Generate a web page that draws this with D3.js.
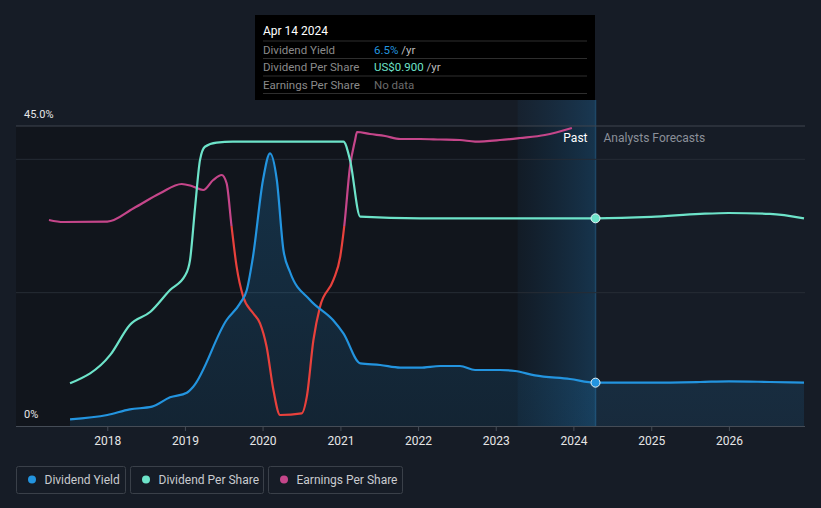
<!DOCTYPE html>
<html>
<head>
<meta charset="utf-8">
<script src="https://cdn.jsdelivr.net/npm/d3@7"></script>
<style>
  html, body { margin: 0; padding: 0; background: #161c26; }
  svg { display: block; font-family: Roboto, "Noto Sans", sans-serif; }
</style>
</head>
<body>
<svg id="chart" width="821" height="508"></svg>
<script>
// ---- data ----
const dividendYieldDates = ["2017-07-10","2018-01-01","2018-04-17","2018-07-30","2018-10-23","2019-01-10","2019-02-09","2019-07-16","2019-09-17","2019-10-19","2019-11-17","2020-01-03","2020-02-05","2020-03-08","2020-04-08","2020-05-09","2020-08-11","2020-11-27","2021-01-15","2021-04-04","2021-07-07","2021-10-09","2022-01-11","2022-04-15","2022-07-17","2022-09-26","2023-01-21","2023-04-02","2023-07-04","2023-12-16","2024-04-14","2025-01-01","2025-08-19","2026-01-01","2026-07-13","2026-12-20"];
const dividendYieldValues = [1.0,1.65,2.5,2.9,4.3,5.0,5.9,15.9,18.4,20.4,25.4,36.9,40.9,36.9,26.4,23.1,18.9,15.9,13.9,9.4,9.15,8.75,8.75,9.0,9.0,8.4,8.4,8.25,7.6,7.05,6.5,6.5,6.6,6.7,6.6,6.5];

const dpsDates = ["2017-07-10","2018-01-15","2018-04-17","2018-07-23","2018-10-23","2019-01-03","2019-01-25","2019-02-18","2019-03-13","2019-04-05","2019-05-30","2019-08-15","2021-01-15","2021-02-15","2021-04-04","2022-01-11","2024-04-14","2025-01-01","2025-08-19","2026-01-01","2026-07-13","2026-12-20"];
const dpsValues = [0.185,0.308,0.438,0.495,0.589,0.654,0.719,0.95,1.153,1.21,1.228,1.232,1.232,1.153,0.907,0.90,0.90,0.906,0.919,0.923,0.919,0.90];

const epsDates = ["2017-04-02","2017-06-09","2018-01-01","2018-05-05","2018-09-06","2018-12-17","2019-02-02","2019-03-28","2019-05-14","2019-06-23","2019-07-16","2019-08-08","2019-09-01","2019-10-02","2019-11-18","2019-12-20","2020-01-20","2020-02-21","2020-03-23","2020-07-03","2020-07-27","2020-08-27","2020-09-27","2020-11-29","2020-12-31","2021-01-19","2021-02-15","2021-03-11","2021-03-20","2021-05-20","2021-07-30","2021-10-09","2022-01-11","2022-04-15","2022-07-17","2022-09-26","2023-01-21","2023-04-25","2023-08-20","2023-12-25"];
const epsValues = [2.747,2.72,2.724,2.903,3.103,3.227,3.2,3.147,3.28,3.347,3.236,2.667,2.124,1.724,1.503,1.369,1.057,0.48,0.147,0.169,0.391,1.147,1.591,1.947,2.257,2.667,3.457,3.813,3.92,3.893,3.867,3.827,3.827,3.82,3.813,3.793,3.813,3.84,3.88,3.973];
const epsWarnThreshold = 2.667;

const yearTicks = ["2018","2019","2020","2021","2022","2023","2024","2025","2026"];
const yTickValues = [0, 45];
const gridValues = [20, 40];
const todayDate = "2024-04-14";
const bandStartDate = "2023-04-14";
const legendItems = ["Dividend Yield","Dividend Per Share","Earnings Per Share"];
const tooltipTitle = "Apr 14 2024";
const tooltipRows = [
  {label:"Dividend Yield", value:"6.5%", unit:" /yr"},
  {label:"Dividend Per Share", value:"US$0.900", unit:" /yr"},
  {label:"Earnings Per Share", value:"No data", unit:""}
];

// ---- setup ----
const colors = { dy: "#2394df", dps: "#6de3c9", eps: "#c5468a", epsWarn: "#e8413c" };
const parse = d3.timeParse("%Y-%m-%d");
const svg = d3.select("#chart");
const L = 16, R = 804, T = 126, B = 426;

const x = d3.scaleTime().domain([parse("2016-10-29"), parse("2026-12-20")]).range([L, R]);
const yDY = d3.scaleLinear().domain([0, 45]).range([B, T]);
const yDPS = d3.scaleLinear().domain([0, 1.3]).range([B, T]);
const yEPS = d3.scaleLinear().domain([0, 4]).range([B, T]);

const dy = dividendYieldDates.map((d, i) => ({ date: parse(d), v: dividendYieldValues[i] }));
const dps = dpsDates.map((d, i) => ({ date: parse(d), v: dpsValues[i] }));
const eps = epsDates.map((d, i) => ({ date: parse(d), v: epsValues[i] }));
const today = parse(todayDate);
const bandStart = parse(bandStartDate);

const defs = svg.append("defs");
const bandGrad = defs.append("linearGradient").attr("id", "bandGrad").attr("x1", 0).attr("x2", 1).attr("y1", 0).attr("y2", 0);
bandGrad.append("stop").attr("offset", "0%").attr("stop-color", "#1a4a70").attr("stop-opacity", 0.12);
bandGrad.append("stop").attr("offset", "100%").attr("stop-color", "#1d5a88").attr("stop-opacity", 0.45);
const areaGrad = defs.append("linearGradient").attr("id", "areaGrad").attr("x1", 0).attr("x2", 0).attr("y1", 0).attr("y2", 1);
areaGrad.append("stop").attr("offset", "0%").attr("stop-color", colors.dy).attr("stop-opacity", 0.22);
areaGrad.append("stop").attr("offset", "100%").attr("stop-color", colors.dy).attr("stop-opacity", 0.12);

// past dark background
svg.append("rect").attr("x", L).attr("y", T).attr("width", x(today) - L).attr("height", B - T).attr("fill", "#11151c");
// past band
svg.append("rect").attr("x", x(bandStart)).attr("y", 100).attr("width", x(today) - x(bandStart)).attr("height", B - 100).attr("fill", "url(#bandGrad)");
svg.append("line").attr("x1", x(today)).attr("x2", x(today)).attr("y1", 100).attr("y2", B).attr("stroke", "#1e4766").attr("stroke-width", 1.5);

// gridlines
svg.selectAll(".grid").data(gridValues).enter().append("line")
  .attr("x1", L).attr("x2", R + 1).attr("y1", d => yDY(d)).attr("y2", d => yDY(d))
  .attr("stroke", "#262c35").attr("stroke-width", 1);
svg.append("line").attr("x1", L).attr("x2", R + 1).attr("y1", yDY(45)).attr("y2", yDY(45)).attr("stroke", "#3f454e").attr("stroke-width", 1);

// x axis
const xAxis = d3.axisBottom(x).tickValues(yearTicks.map(y => parse(y + "-01-01"))).tickFormat(d3.timeFormat("%Y")).tickSize(5).tickSizeOuter(0);
const gx = svg.append("g").attr("transform", `translate(0,${B})`).call(xAxis);
gx.select(".domain").attr("stroke", "#454c56").attr("d", `M${L},0.5H${R + 1}`);
gx.selectAll(".tick line").attr("stroke", "#454c56");
gx.selectAll(".tick text").attr("fill", "#e6e6e6").attr("font-size", 12).attr("dy", "0.9em").attr("font-family", "Roboto, sans-serif");

// y labels
svg.selectAll(".ylab").data(yTickValues).enter().append("text")
  .attr("x", 24).attr("y", d => yDY(d) - 8)
  .attr("fill", "#e6e6e6").attr("font-size", 11)
  .text(d => d === 0 ? "0%" : d3.format(".1f")(d) + "%");

// blue area + lines
const area = d3.area().x(d => x(d.date)).y0(B).y1(d => yDY(d.v)).curve(d3.curveMonotoneX);
svg.append("path").datum(dy).attr("d", area).attr("fill", "url(#areaGrad)");

const lineDY = d3.line().x(d => x(d.date)).y(d => yDY(d.v)).curve(d3.curveMonotoneX);
const lineDPS = d3.line().x(d => x(d.date)).y(d => yDPS(d.v)).curve(d3.curveMonotoneX);
const lineEPS = d3.line().x(d => x(d.date)).y(d => yEPS(d.v)).curve(d3.curveMonotoneX);

// EPS with warning colour below threshold
const thrY = yEPS(epsWarnThreshold);
defs.append("clipPath").attr("id", "clipAbove").append("rect").attr("x", 0).attr("y", 0).attr("width", 821).attr("height", thrY);
defs.append("clipPath").attr("id", "clipBelow").append("rect").attr("x", 0).attr("y", thrY).attr("width", 821).attr("height", 508 - thrY);
svg.append("path").datum(eps).attr("d", lineEPS).attr("fill", "none").attr("stroke", colors.eps).attr("stroke-width", 2.2).attr("clip-path", "url(#clipAbove)");
svg.append("path").datum(eps).attr("d", lineEPS).attr("fill", "none").attr("stroke", colors.epsWarn).attr("stroke-width", 2.2).attr("clip-path", "url(#clipBelow)");

svg.append("path").datum(dps).attr("d", lineDPS).attr("fill", "none").attr("stroke", colors.dps).attr("stroke-width", 2.2);
svg.append("path").datum(dy).attr("d", lineDY).attr("fill", "none").attr("stroke", colors.dy).attr("stroke-width", 2.2);

// today dots
const dyToday = dy.find(d => +d.date === +today);
const dpsToday = dps.find(d => +d.date === +today);
svg.append("circle").attr("cx", x(today)).attr("cy", yDPS(dpsToday.v)).attr("r", 4.5).attr("fill", colors.dps).attr("stroke", "#e8f4f8").attr("stroke-width", 1);
svg.append("circle").attr("cx", x(today)).attr("cy", yDY(dyToday.v)).attr("r", 4.5).attr("fill", colors.dy).attr("stroke", "#e8f4f8").attr("stroke-width", 1);

// Past / forecasts labels
svg.append("text").attr("x", x(today) - 8).attr("y", 142).attr("text-anchor", "end").attr("fill", "#ffffff").attr("font-size", 12).text("Past");
svg.append("text").attr("x", x(today) + 8).attr("y", 142).attr("fill", "#8b9099").attr("font-size", 12).text("Analysts Forecasts");

// tooltip
const tt = svg.append("g");
tt.append("rect").attr("x", 255).attr("y", 15).attr("width", 340).attr("height", 85).attr("fill", "#000");
tt.append("text").attr("x", 263).attr("y", 35).attr("fill", "#fff").attr("font-size", 12).text(tooltipTitle);
[41, 58.5, 76, 93.5].forEach(yy => tt.append("line").attr("x1", 263).attr("x2", 587).attr("y1", yy).attr("y2", yy).attr("stroke", "#2e2e2e").attr("stroke-width", 1));
const valueColors = [colors.dy, colors.dps, "#6b6b6b"];
tooltipRows.forEach((r, i) => {
  const yy = 53.5 + i * 17.5;
  tt.append("text").attr("x", 263).attr("y", yy).attr("fill", "#8a8a8a").attr("font-size", 11.5).text(r.label);
  const t = tt.append("text").attr("x", 374).attr("y", yy).attr("font-size", 11.5);
  t.append("tspan").attr("fill", valueColors[i]).text(r.value);
  t.append("tspan").attr("fill", "#bdbdbd").text(r.unit);
});

// legend
const legendBoxes = [{x: 16.5, w: 109}, {x: 130.5, w: 133}, {x: 268.5, w: 134}];
const legendColors = [colors.dy, colors.dps, colors.eps];
legendItems.forEach((name, i) => {
  const g = svg.append("g");
  g.append("rect").attr("x", legendBoxes[i].x).attr("y", 466.5).attr("width", legendBoxes[i].w).attr("height", 27).attr("rx", 2).attr("fill", "none").attr("stroke", "#3a4049");
  g.append("circle").attr("cx", legendBoxes[i].x + 15.5).attr("cy", 479.5).attr("r", 4).attr("fill", legendColors[i]);
  g.append("text").attr("x", legendBoxes[i].x + 28).attr("y", 483.5).attr("fill", "#c9cbcf").attr("font-size", 12).text(name);
});
</script>
</body>
</html>
